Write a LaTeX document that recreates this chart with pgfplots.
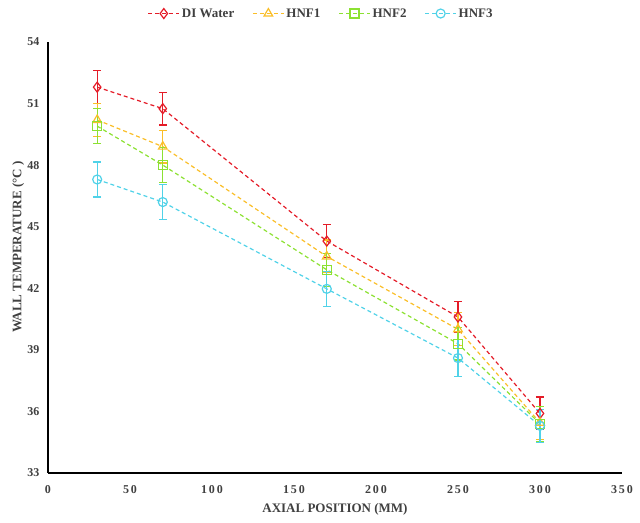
\documentclass[border=0pt]{standalone}
\usepackage{fontspec}
\setmainfont{Liberation Serif}
\usepackage{pgfplots}
\pgfplotsset{compat=1.18}
\definecolor{cRed}{RGB}{228,28,40}
\definecolor{cOrg}{RGB}{250,190,40}
\definecolor{cGrn}{RGB}{140,225,50}
\definecolor{cCyn}{RGB}{80,210,232}
\definecolor{txt}{RGB}{64,64,64}
\begin{document}
\begin{tikzpicture}[x=1pt,y=1pt]
\begin{axis}[
  scale only axis, width=574pt, height=431pt,
  xmin=0, xmax=350, ymin=33, ymax=54,
  xtick={0,50,...,350}, ytick={33,36,...,54},
  axis x line*=bottom, axis y line*=left,
  axis line style={black, line width=1.6pt, -},
  tick style={draw=none},
  ticklabel style={font=\fontsize{12}{14}\selectfont\bfseries, text=txt},
  /pgf/number format/assume math mode=true,
  xticklabel style={yshift=-9pt, font=\fontsize{12}{14}\selectfont\bfseries\addfontfeature{LetterSpace=15}},
  yticklabel style={xshift=-5pt},
  xlabel={\bfseries AXIAL POSITION (MM)},
  ylabel={\bfseries WALL TEMPERATURE (°C )},
  label style={font=\fontsize{13}{15}\selectfont, text=txt},
  xlabel style={at={(axis description cs:0.5,-0.0835)}, anchor=center},
  ylabel style={at={(axis description cs:-0.052,0.524)}, anchor=center},
  legend columns=4,
  legend style={draw=none, at={(axis description cs:0.476,1.066)}, anchor=center,
    inner sep=0pt, fill=none,
    font=\fontsize{13}{15}\selectfont\bfseries, text=txt,
    /tikz/every even column/.append style={column sep=16pt}},
  legend image code/.code={
    \draw[#1] (0pt,0pt) -- (31pt,0pt);
    \draw[#1, solid, mark repeat=1] plot coordinates {(15.5pt,0pt)};
  },
  every axis plot/.append style={line width=1.2pt, dash pattern=on 4pt off 3pt},
  error bars/y dir=both, error bars/y explicit,
  error bars/error bar style={solid, line width=1.2pt},
  error bars/error mark options={rotate=90, mark size=4pt, solid, line width=1.2pt},
]
\coordinate (bbA) at (axis description cs:-0.0836,-0.116);
\coordinate (bbB) at (axis description cs:1.0314,1.0974);
\addplot[cRed, mark=diamond, mark size=5pt, mark options={solid, line width=1.2pt}] coordinates {
  (30,51.8) +- (0,0.8) (70,50.75) +- (0,0.8) (170,44.3) +- (0,0.8) (250,40.6) +- (0,0.75) (300,35.9) +- (0,0.8)};
\addlegendentry{DI Water}
\addplot[cOrg, mark=triangle, mark size=5pt, mark options={solid, line width=1.2pt}] coordinates {
  (30,50.2) +- (0,0.8) (70,48.9) +- (0,0.8) (170,43.55) +- (0,0.8) (250,40.0) +- (0,0.8) (300,35.45) +- (0,0.8)};
\addlegendentry{HNF1}
\addplot[cGrn, mark=square, mark size=4.5pt, mark options={solid, line width=1.2pt}] coordinates {
  (30,49.9) +- (0,0.85) (70,48.0) +- (0,0.85) (170,42.9) +- (0,0.8) (250,39.3) +- (0,0.8) (300,35.4) +- (0,0.85)};
\addlegendentry{HNF2}
\addplot[cCyn, mark=o, mark size=4.5pt, mark options={solid, line width=1.2pt}] coordinates {
  (30,47.3) +- (0,0.85) (70,46.2) +- (0,0.85) (170,41.97) +- (0,0.85) (250,38.6) +- (0,0.9) (300,35.3) +- (0,0.8)};
\addlegendentry{HNF3}
\end{axis}
\pgfresetboundingbox
\path[use as bounding box] (bbA) rectangle (bbB);
\end{tikzpicture}
\end{document}
